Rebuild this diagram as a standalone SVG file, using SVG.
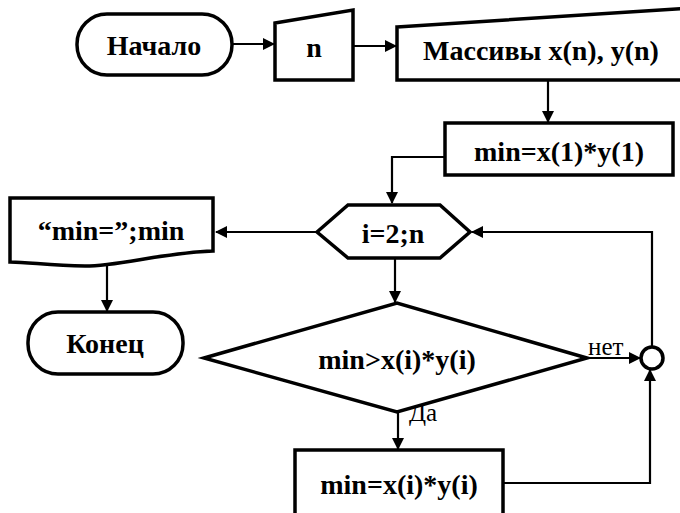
<svg xmlns="http://www.w3.org/2000/svg" width="680" height="513" viewBox="0 0 680 513">
  <style>
    .shape { fill: #fff; stroke: #000; stroke-width: 3.5; stroke-linejoin: miter; }
    .line { fill: none; stroke: #000; stroke-width: 2.2; }
    text { font-family: 'Liberation Serif', 'DejaVu Serif', serif; }
    .txt { font-weight: bold; font-size: 28px; fill: #000; text-anchor: middle; dominant-baseline: central; }
    .lbl { font-size: 25px; fill: #000; }
  </style>
  <defs>
    <marker id="arrow" viewBox="0 0 12 12" refX="11" refY="6" markerWidth="12" markerHeight="12" markerUnits="userSpaceOnUse" orient="auto">
      <path d="M0,0 L12,6 L0,12 z" fill="#000"/>
    </marker>
  </defs>

  <!-- connectors -->
  <g id="connectors">
    <line class="line" x1="232" y1="44" x2="274" y2="44" marker-end="url(#arrow)"/>
    <line class="line" x1="353" y1="46" x2="396" y2="46" marker-end="url(#arrow)"/>
    <line class="line" x1="548" y1="80" x2="548" y2="122" marker-end="url(#arrow)"/>
    <polyline class="line" points="445,157 392,157 392,203" marker-end="url(#arrow)"/>
    <line class="line" x1="317" y1="232" x2="216" y2="232" marker-end="url(#arrow)"/>
    <line class="line" x1="107" y1="263" x2="107" y2="311" marker-end="url(#arrow)"/>
    <line class="line" x1="395" y1="258" x2="395" y2="302" marker-end="url(#arrow)"/>
    <line class="line" x1="587" y1="358" x2="640" y2="358" marker-end="url(#arrow)"/>
    <polyline class="line" points="652,347 652,232 472,232" marker-end="url(#arrow)"/>
    <line class="line" x1="398" y1="412" x2="398" y2="449" marker-end="url(#arrow)"/>
    <polyline class="line" points="504,483 650,483 650,370" marker-end="url(#arrow)"/>
    <text class="lbl" x="588" y="355">нет</text>
    <text class="lbl" x="409" y="421">Да</text>
  </g>

  <g id="start">
    <rect class="shape" x="77" y="14" width="155" height="61" rx="30" ry="30"/>
    <text class="txt" x="154" y="45">Начало</text>
  </g>

  <g id="input-n">
    <path class="shape" d="M275,23 L353,10 L353,80 L275,80 Z"/>
    <text class="txt" x="314" y="47">n</text>
  </g>

  <g id="input-arrays">
    <path class="shape" d="M397,27 L690,8 L690,80 L397,80 Z"/>
    <text class="txt" x="541" y="50">Массивы x(n), y(n)</text>
  </g>

  <g id="init-min">
    <rect class="shape" x="445" y="123" width="228" height="52"/>
    <text class="txt" x="559" y="151">min=x(1)*y(1)</text>
  </g>

  <g id="loop">
    <path class="shape" d="M317,232 L348,205 L440,205 L470,232 L440,258 L348,258 Z"/>
    <text class="txt" x="393" y="233">i=2;n</text>
  </g>

  <g id="output">
    <path class="shape" d="M10,198 L213,198 L213,251 C160,253 120,266 85,266 C50,266 30,262 10,262 Z"/>
    <text class="txt" x="111" y="230">“min=”;min</text>
  </g>

  <g id="end">
    <rect class="shape" x="28" y="312" width="155" height="62" rx="30" ry="30"/>
    <text class="txt" x="105" y="343">Конец</text>
  </g>

  <g id="condition">
    <path class="shape" d="M204,358 L397,303 L587,358 L397,412 Z"/>
    <text class="txt" x="397" y="359">min&gt;x(i)*y(i)</text>
  </g>

  <g id="update-min">
    <rect class="shape" x="295" y="450" width="208" height="70"/>
    <text class="txt" x="399" y="484">min=x(i)*y(i)</text>
  </g>

  <g id="junction">
    <circle class="shape" cx="652" cy="358" r="11" stroke-width="3"/>
  </g>
</svg>
